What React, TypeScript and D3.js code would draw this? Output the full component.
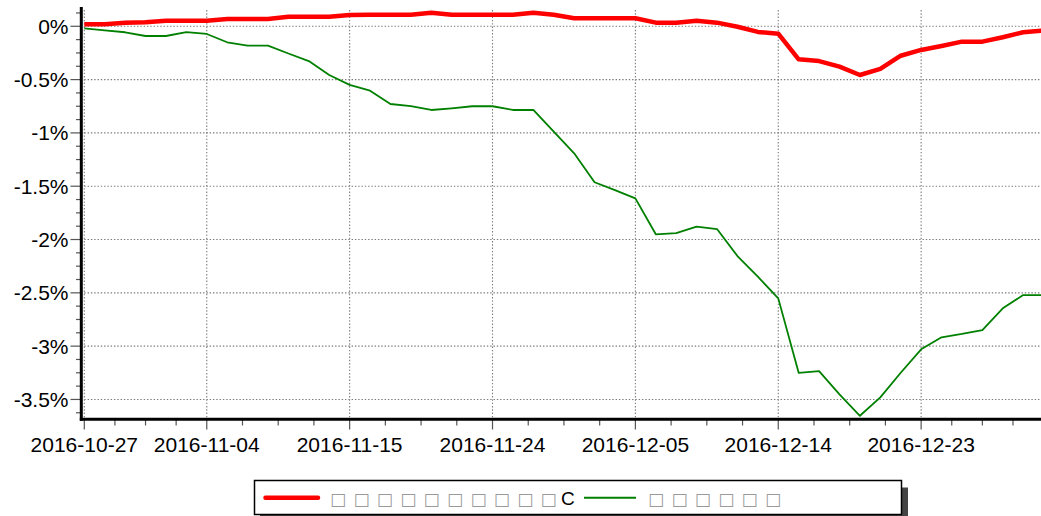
import React from "react";
import * as d3 from "d3";

const dates = [
  "2016-10-27", "2016-10-28", "2016-10-31", "2016-11-01", "2016-11-02", "2016-11-03", "2016-11-04",
  "2016-11-07", "2016-11-08", "2016-11-09", "2016-11-10", "2016-11-11", "2016-11-14", "2016-11-15",
  "2016-11-16", "2016-11-17", "2016-11-18", "2016-11-21", "2016-11-22", "2016-11-23", "2016-11-24",
  "2016-11-25", "2016-11-28", "2016-11-29", "2016-11-30", "2016-12-01", "2016-12-02", "2016-12-05",
  "2016-12-06", "2016-12-07", "2016-12-08", "2016-12-09", "2016-12-12", "2016-12-13", "2016-12-14",
  "2016-12-15", "2016-12-16", "2016-12-19", "2016-12-20", "2016-12-21", "2016-12-22", "2016-12-23",
  "2016-12-26", "2016-12-27", "2016-12-28", "2016-12-29", "2016-12-30", "2017-01-03",
];

// series values in percent
const redValues = [
  0.019, 0.019, 0.034, 0.038, 0.053, 0.053, 0.053, 0.068, 0.068, 0.068, 0.09, 0.09, 0.09, 0.106,
  0.109, 0.109, 0.109, 0.128, 0.109, 0.109, 0.109, 0.109, 0.128, 0.109, 0.075, 0.075, 0.075, 0.075,
  0.034, 0.034, 0.053, 0.034, -0.004, -0.053, -0.069, -0.31, -0.326, -0.379, -0.457, -0.4, -0.276,
  -0.222, -0.185, -0.144, -0.144, -0.103, -0.056, -0.04,
];

const greenValues = [
  -0.019, -0.039, -0.056, -0.091, -0.091, -0.055, -0.072, -0.15, -0.182, -0.182, -0.255, -0.326,
  -0.457, -0.55, -0.604, -0.729, -0.748, -0.785, -0.769, -0.75, -0.75, -0.785, -0.785, -0.989,
  -1.191, -1.463, -1.536, -1.614, -1.951, -1.94, -1.88, -1.902, -2.155, -2.349, -2.552, -3.25,
  -3.234, -3.452, -3.653, -3.48, -3.25, -3.03, -2.917, -2.886, -2.849, -2.645, -2.521, -2.521,
];

const xTickLabels = [
  "2016-10-27", "2016-11-04", "2016-11-15", "2016-11-24", "2016-12-05", "2016-12-14", "2016-12-23",
];
// minor x ticks, in trading-day index units
const xMinorTicks = [
  1.5, 3, 4.5, 7.75, 9.5, 11.25, 14.75, 16.5, 18.25, 21.75, 23.5, 25.25, 28.75, 30.5, 32.25,
  35.75, 37.5, 39.25, 42.5, 44, 45.5, 47,
];

const yTicks = [0, -0.5, -1, -1.5, -2, -2.5, -3, -3.5];
const yTickLabels = ["0%", "-0.5%", "-1%", "-1.5%", "-2%", "-2.5%", "-3%", "-3.5%"];
const yMinorTicks = d3.range(-3.625, 0.2, 0.125).filter((v) => Math.abs((v * 2) - Math.round(v * 2)) > 1e-6);

const legendRedLabel = "□□□□□□□□□□";
const legendRedSuffix = "C";
const legendGreenLabel = "□□□□□□";

const W = 1041;
const H = 516;
const FONT = "'Liberation Sans', Arial, sans-serif";

export default function App() {
  const x0 = 84.3;
  const x1 = 1043.6;
  const xScale = d3.scalePoint<string>().domain(dates).range([x0, x1]);
  const xIdx = d3.scaleLinear().domain([0, dates.length - 1]).range([x0, x1]);
  const yScale = d3.scaleLinear().domain([-3.69, 0.18]).range([419.7, 7.1]);

  const axisX = 81.3;
  const axisY = 419.3;

  const lineGen = (vals: number[]) =>
    d3
      .line<number>()
      .x((_, i) => xScale(dates[i]) as number)
      .y((v) => yScale(v))(vals) as string;

  const gridColor = "#7a7a7a";
  const gridDash = "1.4 1.9";

  const boxStep = 23.4;
  const redLabelX = d3.range(legendRedLabel.length).map((i) => 330 + i * boxStep);
  const greenLabelX = d3.range(legendGreenLabel.length).map((i) => 648 + i * boxStep);

  return (
    <svg
      width={W}
      height={H}
      style={{ position: "absolute", left: 0, top: 0, background: "#fff" }}
      fontFamily={FONT}
    >
      <rect x={0} y={0} width={W} height={H} fill="#fff" />
      {/* horizontal grid */}
      {yTicks.map((t) => (
        <line
          key={"hg" + t}
          x1={x0}
          x2={W}
          y1={yScale(t)}
          y2={yScale(t)}
          stroke={gridColor}
          strokeWidth={1.1}
          strokeDasharray={gridDash}
        />
      ))}
      {/* vertical grid */}
      {xTickLabels.map((d) => (
        <line
          key={"vg" + d}
          x1={xScale(d)}
          x2={xScale(d)}
          y1={10}
          y2={axisY - 1}
          stroke={gridColor}
          strokeWidth={1.1}
          strokeDasharray={gridDash}
        />
      ))}

      {/* series */}
      <path d={lineGen(greenValues)} fill="none" stroke="#008000" strokeWidth={1.8} strokeLinejoin="round" />
      <path d={lineGen(redValues)} fill="none" stroke="#ff0000" strokeWidth={4.5} strokeLinejoin="round" />

      {/* y axis ticks */}
      {yMinorTicks.map((t) => (
        <line key={"ymt" + t} x1={76} x2={axisX} y1={yScale(t)} y2={yScale(t)} stroke="#555" strokeWidth={1.2} />
      ))}
      {yTicks.map((t, i) => (
        <g key={"yt" + t}>
          <line x1={70.5} x2={axisX} y1={yScale(t)} y2={yScale(t)} stroke="#555" strokeWidth={1.2} />
          <text x={68.5} y={yScale(t)} dy="0.36em" textAnchor="end" fontSize={21} fill="#000">
            {yTickLabels[i]}
          </text>
        </g>
      ))}

      {/* x axis ticks */}
      {xMinorTicks.map((t) => (
        <line key={"xmt" + t} x1={xIdx(t)} x2={xIdx(t)} y1={axisY} y2={425.5} stroke="#555" strokeWidth={1.2} />
      ))}
      {xTickLabels.map((d) => (
        <g key={"xt" + d}>
          <line x1={xScale(d)} x2={xScale(d)} y1={axisY} y2={429.5} stroke="#555" strokeWidth={1.2} />
          <text x={xScale(d)} y={452} textAnchor="middle" fontSize={21} fill="#000">
            {d}
          </text>
        </g>
      ))}

      {/* axes lines */}
      <line x1={axisX} x2={axisX} y1={7} y2={axisY + 1.5} stroke="#000" strokeWidth={3} />
      <line x1={axisX - 1.5} x2={W} y1={axisY} y2={axisY} stroke="#000" strokeWidth={3} />

      {/* legend */}
      <rect x={260} y={487.5} width={648} height={34} fill="#444" />
      <rect x={254.5} y={480.5} width={647} height={34} fill="#fff" stroke="#000" strokeWidth={1.5} />
      <line x1={265.5} x2={318} y1={497.7} y2={497.7} stroke="#ff0000" strokeWidth={4.5} strokeLinecap="round" />
      <text y={504.5} fontSize={17} fontFamily="'DejaVu Sans', sans-serif" fill="#9a9a9a">
        <tspan x={redLabelX.join(" ")}>{legendRedLabel}</tspan>
      </text>
      <text x={561} y={504.5} fontSize={19} fill="#000">
        {legendRedSuffix}
      </text>
      <line x1={584} x2={636} y1={497.7} y2={497.7} stroke="#008000" strokeWidth={2} />
      <text y={504.5} fontSize={17} fontFamily="'DejaVu Sans', sans-serif" fill="#9a9a9a">
        <tspan x={greenLabelX.join(" ")}>{legendGreenLabel}</tspan>
      </text>
    </svg>
  );
}
